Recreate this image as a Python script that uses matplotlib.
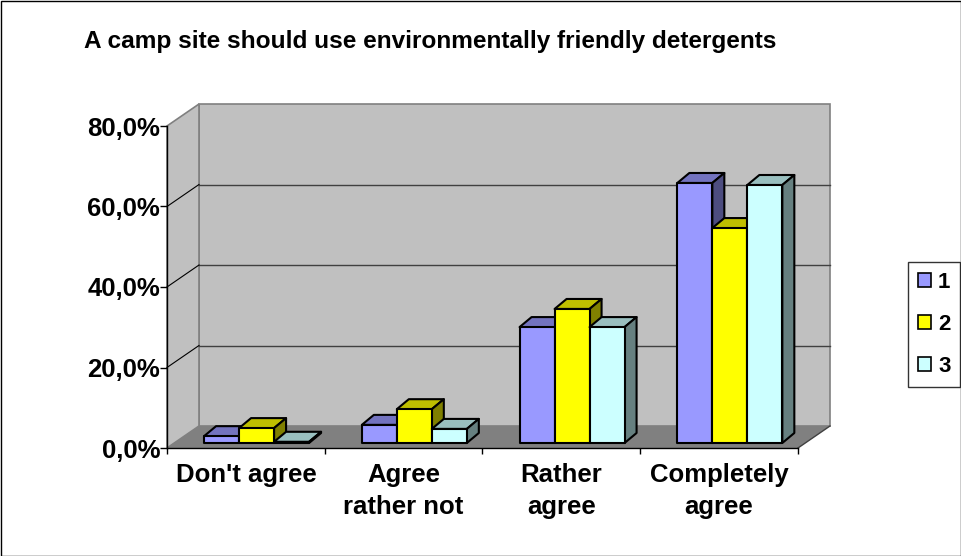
import matplotlib.pyplot as plt
from matplotlib.patches import Polygon, Rectangle

# data (percent)
categories = ["Don't agree", "Agree\nrather not", "Rather\nagree", "Completely\nagree"]
series_names = ["1", "2", "3"]
series1 = [1.7, 4.5, 28.8, 64.6]
series2 = [3.7, 8.4, 33.3, 53.4]
series3 = [0.3, 3.5, 28.8, 64.1]
yticks = [0, 20, 40, 60, 80]
ytick_labels = ["0,0%", "20,0%", "40,0%", "60,0%", "80,0%"]

series = [series1, series2, series3]
front_colors = ["#9999FF", "#FFFF00", "#CCFFFF"]
top_colors = ["#7373BF", "#BFBF00", "#99BFBF"]
side_colors = ["#4D4D80", "#808000", "#668080"]

plt.rcParams["font.family"] = ["Liberation Sans", "DejaVu Sans"]
plt.rcParams["font.weight"] = "bold"

W, H = 962, 556
fig = plt.figure(figsize=(W / 100, H / 100), dpi=100)

# front plane of the plot area, in pixels
x0, x1, y0, y1 = 167, 798, 448, 126
ax = fig.add_axes([x0 / W, (H - y0) / H, (x1 - x0) / W, (y0 - y1) / H])
ax.set_xlim(0, len(categories))
ax.set_ylim(0, 80)
px_x = len(categories) / (x1 - x0)   # data units per pixel
px_y = 80 / (y0 - y1)

# oblique depth of walls and of the bars
DX, DY = 32 * px_x, 22 * px_y
BX, BY = 10.7 * px_x, 5 * px_y
TX, TY = 12 * px_x, 10 * px_y
bw = 35 * px_x

n = len(categories)
wall = "#C0C0C0"
ax.add_patch(Polygon([(DX, DY), (n + DX, DY), (n + DX, 80 + DY), (DX, 80 + DY)],
                     closed=True, fc=wall, ec="#808080", lw=1.2, clip_on=False, zorder=1))
ax.add_patch(Polygon([(0, 0), (DX, DY), (DX, 80 + DY), (0, 80)],
                     closed=True, fc=wall, ec="#808080", lw=1.2, clip_on=False, zorder=1))
ax.add_patch(Polygon([(0, 0), (n, 0), (n + DX, DY), (DX, DY)],
                     closed=True, fc="#808080", ec="none", clip_on=False, zorder=1.5))
ax.plot([n, n + DX], [0, DY], color="#404040", lw=1, clip_on=False, zorder=1.6)
for t in yticks[1:-1]:
    ax.plot([DX, n + DX], [t + DY, t + DY], color="#404040", lw=1, clip_on=False, zorder=1.2)
    ax.plot([0, DX], [t, t + DY], color="black", lw=0.8, clip_on=False, zorder=1.2)

# 3D-looking bars
for i in range(n):
    left = i + 0.5 - 1.5 * bw + BX
    for s, vals in enumerate(series):
        xl = left + s * bw
        xr = xl + bw
        b = BY
        t = BY + vals[i]
        z = 3 + i * 0.1 + s * 0.01
        ax.add_patch(Polygon([(xl, t), (xr, t), (xr + TX, t + TY), (xl + TX, t + TY)],
                             closed=True, fc=top_colors[s], ec="black", lw=1.5,
                             joinstyle="round", clip_on=False, zorder=z))
        ax.add_patch(Polygon([(xr, b), (xr + TX, b + TY), (xr + TX, t + TY), (xr, t)],
                             closed=True, fc=side_colors[s], ec="black", lw=1.5,
                             joinstyle="round", clip_on=False, zorder=z))
        ax.add_patch(Polygon([(xl, b), (xr, b), (xr, t), (xl, t)],
                             closed=True, fc=front_colors[s], ec="black", lw=1.5,
                             joinstyle="round", clip_on=False, zorder=z))

for side in ["top", "right"]:
    ax.spines[side].set_visible(False)
for side in ["left", "bottom"]:
    ax.spines[side].set_color("black")
    ax.spines[side].set_linewidth(1)
    ax.spines[side].set_zorder(2)
ax.patch.set_visible(False)

ax.set_yticks(yticks, ytick_labels, fontsize=18.5, fontweight="bold")
ax.set_xticks(range(n + 1), [""] * (n + 1))
ax.set_xticks([i + 0.5 for i in range(n)], categories, minor=True,
              fontsize=18.5, fontweight="bold", linespacing=1.42)
ax.tick_params(axis="y", length=5, width=1, pad=0)
ax.tick_params(axis="x", which="major", length=4.5, width=1)
ax.tick_params(axis="x", which="minor", length=0, pad=11)

fig.text(430 / W, (H - 48) / H, "A camp site should use environmentally friendly detergents",
         ha="center", va="baseline", fontsize=17.6, fontweight="bold")

handles = [Rectangle((0, 0), 1, 1, fc=c, ec="black", lw=1.2) for c in front_colors]
leg = fig.legend(handles, series_names, loc="upper left",
                 bbox_to_anchor=(908 / W, (H - 262) / H), frameon=True,
                 prop={"size": 16, "weight": "bold"}, handlelength=0.6,
                 handleheight=0.6, handletextpad=0.3, labelspacing=0.95,
                 borderpad=0.45, borderaxespad=0, fancybox=False)
leg.get_frame().set_edgecolor("black")
leg.get_frame().set_linewidth(1)

fig.add_artist(Rectangle((0.5 / W, 0.5 / H), (W - 1) / W, (H - 1) / H, fill=False,
                         ec="black", lw=1, transform=fig.transFigure))

fig.savefig("out.png", dpi=100)
